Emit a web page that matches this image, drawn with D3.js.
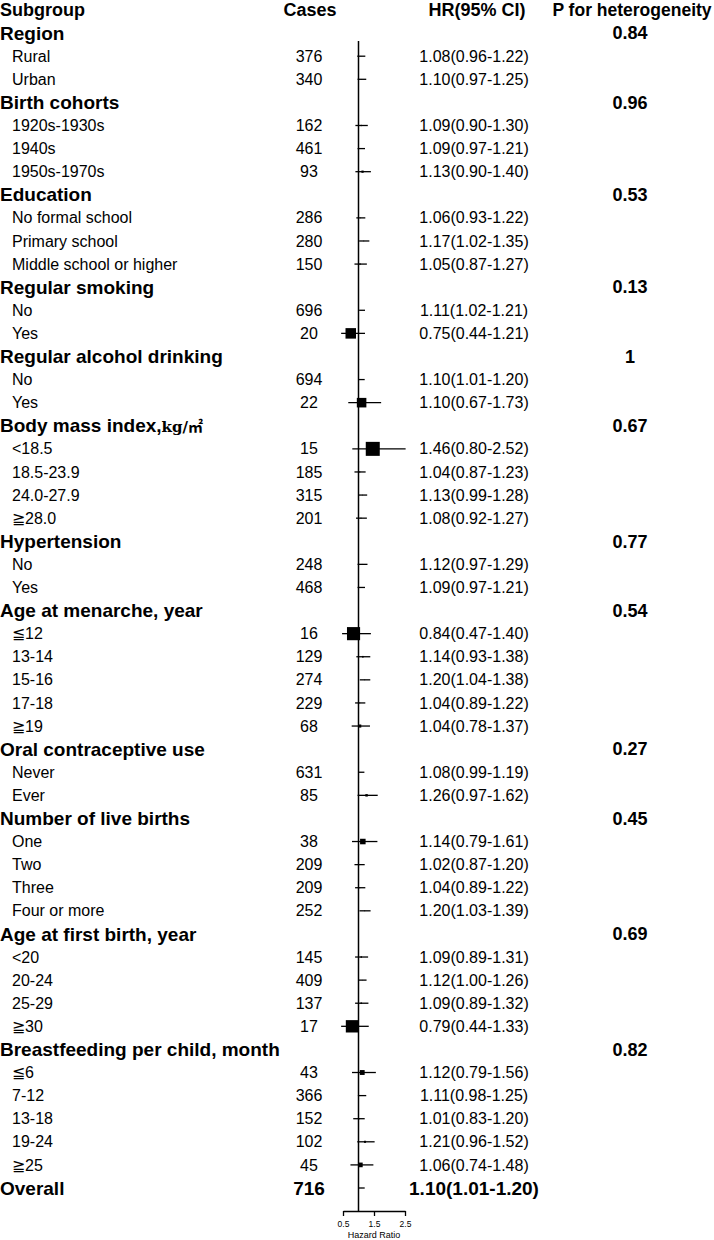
<!DOCTYPE html>
<html>
<head>
<meta charset="utf-8">
<script src="https://cdn.jsdelivr.net/npm/d3@7"></script>
<style>
  body { margin: 0; background: #fff; }
  text { font-family: "Liberation Sans", Arial, sans-serif; fill: #000; }
</style>
</head>
<body>
<div id="chart"></div>
<script>
// forest plot data
var groupNames = ["Region", "Birth cohorts", "Education", "Regular smoking", "Regular alcohol drinking",
  "Body mass index,", "Hypertension", "Age at menarche, year", "Oral contraceptive use",
  "Number of live births", "Age at first birth, year", "Breastfeeding per child, month"];
var groupP = ["0.84", "0.96", "0.53", "0.13", "1", "0.67", "0.77", "0.54", "0.27", "0.45", "0.69", "0.82"];

var subLabels = [
  ["Rural", "Urban"],
  ["1920s-1930s", "1940s", "1950s-1970s"],
  ["No formal school", "Primary school", "Middle school or higher"],
  ["No", "Yes"],
  ["No", "Yes"],
  ["<18.5", "18.5-23.9", "24.0-27.9", "≧28.0"],
  ["No", "Yes"],
  ["≦12", "13-14", "15-16", "17-18", "≧19"],
  ["Never", "Ever"],
  ["One", "Two", "Three", "Four or more"],
  ["<20", "20-24", "25-29", "≧30"],
  ["≦6", "7-12", "13-18", "19-24", "≧25"]
];
var subCases = [
  [376, 340], [162, 461, 93], [286, 280, 150], [696, 20], [694, 22],
  [15, 185, 315, 201], [248, 468], [16, 129, 274, 229, 68], [631, 85],
  [38, 209, 209, 252], [145, 409, 137, 17], [43, 366, 152, 102, 45]
];
var subHR = [
  [1.08, 1.10], [1.09, 1.09, 1.13], [1.06, 1.17, 1.05], [1.11, 0.75], [1.10, 1.10],
  [1.46, 1.04, 1.13, 1.08], [1.12, 1.09], [0.84, 1.14, 1.20, 1.04, 1.04], [1.08, 1.26],
  [1.14, 1.02, 1.04, 1.20], [1.09, 1.12, 1.09, 0.79], [1.12, 1.11, 1.01, 1.21, 1.06]
];
var subLo = [
  [0.96, 0.97], [0.90, 0.97, 0.90], [0.93, 1.02, 0.87], [1.02, 0.44], [1.01, 0.67],
  [0.80, 0.87, 0.99, 0.92], [0.97, 0.97], [0.47, 0.93, 1.04, 0.89, 0.78], [0.99, 0.97],
  [0.79, 0.87, 0.89, 1.03], [0.89, 1.00, 0.89, 0.44], [0.79, 0.98, 0.83, 0.96, 0.74]
];
var subHi = [
  [1.22, 1.25], [1.30, 1.21, 1.40], [1.22, 1.35, 1.27], [1.21, 1.21], [1.20, 1.73],
  [2.52, 1.23, 1.28, 1.27], [1.29, 1.21], [1.40, 1.38, 1.38, 1.22, 1.37], [1.19, 1.62],
  [1.61, 1.20, 1.22, 1.39], [1.31, 1.26, 1.32, 1.33], [1.56, 1.25, 1.20, 1.52, 1.48]
];
var overall = { label: "Overall", cases: 716, hr: 1.10, lo: 1.01, hi: 1.20 };
var axisTicks = [0.5, 1.5, 2.5];

// build the row list
var rows = [];
groupNames.forEach(function (g, gi) {
  rows.push({ type: "group", label: g, p: groupP[gi] });
  subLabels[gi].forEach(function (s, si) {
    rows.push({ type: "sub", label: s, cases: subCases[gi][si], hr: subHR[gi][si],
      lo: subLo[gi][si], hi: subHi[gi][si] });
  });
});
rows.push({ type: "overall", label: overall.label, cases: overall.cases, hr: overall.hr,
  lo: overall.lo, hi: overall.hi });

var width = 714, height = 1240;
var fmt = d3.format(".2f");

var svg = d3.select("#chart").append("svg")
  .attr("width", width)
  .attr("height", height);

// row 0 = header, rows start at 1
var y = d3.scaleLinear().domain([0, rows.length]).range([10, 1188]);
var x = d3.scaleLinear().domain([0.5, 2.5]).range([343, 405]);
var boxSize = d3.scalePow().exponent(-1).domain([15, 716]).range([14, 14 * 15 / 716]);

var colCases = 309, colHR = 474, colP = 630;

// header
var header = svg.append("g").style("font-weight", "bold").style("font-size", "18px");
header.append("text").attr("x", 0).attr("y", y(0)).attr("dy", "0.35em").text("Subgroup");
header.append("text").attr("x", colCases + 1).attr("y", y(0)).attr("dy", "0.35em")
  .attr("text-anchor", "middle").text("Cases");
header.append("text").attr("x", 477).attr("y", y(0)).attr("dy", "0.35em")
  .attr("text-anchor", "middle").text("HR(95% CI)");
header.append("text").attr("x", 632).attr("y", y(0)).attr("dy", "0.35em")
  .attr("text-anchor", "middle").style("font-size", "17.5px").text("P for heterogeneity");

// reference line at HR = 1
svg.append("line")
  .attr("x1", x(1)).attr("x2", x(1))
  .attr("y1", 41).attr("y2", 1211)
  .attr("stroke", "#000").attr("stroke-width", 1.5);

var row = svg.selectAll(".row")
  .data(rows)
  .enter()
  .append("g")
  .attr("class", "row")
  .attr("transform", function (d, i) { return "translate(0," + y(i + 1) + ")"; });

// labels
row.append("text")
  .attr("x", d => d.type === "sub" ? 12 : 0)
  .attr("dy", "0.35em")
  .style("font-size", d => d.type === "sub" ? "16px" : "19px")
  .style("font-weight", d => d.type === "sub" ? "normal" : "bold")
  .each(function (d) {
    var t = d3.select(this);
    t.append("tspan").text(d.label);
    if (d.label === "Body mass index,") {
      t.append("tspan").style("font-family", "'DejaVu Serif', serif").style("font-size", "15px").text("kg/");
      t.append("tspan").style("font-family", "'Noto Sans CJK SC', sans-serif").style("font-size", "15px").text("㎡");
    }
  });

// group p values
row.filter(d => d.type === "group").append("text")
  .attr("x", colP)
  .attr("dy", "0.35em")
  .attr("text-anchor", "middle")
  .style("font-size", "18px")
  .style("font-weight", "bold")
  .text(d => d.p);

var est = row.filter(d => d.type !== "group");

est.append("text")
  .attr("x", colCases)
  .attr("dy", "0.35em")
  .attr("text-anchor", "middle")
  .style("font-size", d => d.type === "overall" ? "19px" : "16px")
  .style("font-weight", d => d.type === "overall" ? "bold" : "normal")
  .text(d => d.cases);

est.append("text")
  .attr("x", colHR)
  .attr("dy", "0.35em")
  .attr("text-anchor", "middle")
  .style("font-size", d => d.type === "overall" ? "19px" : "16px")
  .style("font-weight", d => d.type === "overall" ? "bold" : "normal")
  .text(d => fmt(d.hr) + "(" + fmt(d.lo) + "-" + fmt(d.hi) + ")");

// confidence intervals
est.append("line")
  .attr("x1", d => x(d.lo))
  .attr("x2", d => x(d.hi))
  .attr("stroke", "#000")
  .attr("stroke-width", 1.3);

// boxes
est.append("rect")
  .attr("x", d => x(d.hr) - boxSize(d.cases) / 2)
  .attr("y", d => -boxSize(d.cases) / 2)
  .attr("width", d => boxSize(d.cases))
  .attr("height", d => boxSize(d.cases))
  .attr("fill", "#000");

// axis
var axis = svg.append("g")
  .attr("transform", "translate(0,1211)")
  .call(d3.axisBottom(x).tickValues(axisTicks).tickSize(5).tickSizeOuter(0).tickFormat(d3.format(".1f")));
axis.select(".domain").attr("stroke", "#000").attr("stroke-width", 1.3);
axis.selectAll(".tick line").attr("stroke", "#000").attr("stroke-width", 1.3);
axis.selectAll(".tick text")
  .attr("y", 10)
  .style("font-size", "8.5px")
  .style("font-family", "'Liberation Sans', Arial, sans-serif")
  .attr("fill", "#000");

svg.append("text")
  .attr("x", x(1.5))
  .attr("y", 1238)
  .attr("text-anchor", "middle")
  .style("font-size", "9px")
  .text("Hazard Ratio");
</script>
</body>
</html>
